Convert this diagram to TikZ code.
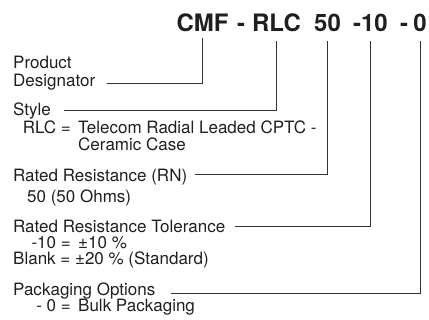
\documentclass[tikz,border=0pt]{standalone}
\usepackage{fontspec}
\setmainfont{TeX Gyre Heros}
\usetikzlibrary{positioning}
\tikzset{font=\fontsize{17}{20}\selectfont}
\tikzstyle{lbl}=[anchor=base west,inner sep=0pt,text=black!88]
\tikzstyle{eqs}=[anchor=base east,inner sep=0pt,text=black!88]
\tikzstyle{code}=[anchor=base,inner sep=0pt,text=black!88,font=\fontsize{24}{28}\selectfont\bfseries]
\tikzstyle{lead}=[draw=black!80,line width=0.8pt]

\begin{document}
\begin{tikzpicture}[x=1pt,y=-1pt]
\useasboundingbox (0,0) rectangle (429,320);
% part number
\node[code] (cmf) at (202.5,31.7) {CMF};
\node[code] (d1) at (241,31.7) {-};
\node[code] (rlc) at (276.5,31.7) {RLC};
\node[code] (rn) at (327.5,31.7) {50};
\node[code] (tol) at (370.5,31.7) {-10};
\node[code] (d2) at (404,31.7) {-};
\node[code] (pkg) at (420,31.7) {0};
% descriptions
\node[lbl] (prod) at (13,69) {Product};
\node[lbl] (desig) at (13,87) {Designator};
\node[lbl] (style) at (13,116) {Style};
\node[eqs] (rlceq) at (71,134) {RLC =};
\node[lbl] (rlctxt) at (78,134) {Telecom Radial Leaded CPTC -};
\node[lbl] (case) at (78,151) {Ceramic Case};
\node[lbl] (rated) at (13,182) {Rated Resistance (RN)};
\node[lbl] (ohms) at (27,203) {50 (50 Ohms)};
\node[lbl] (ratol) at (13,233) {Rated Resistance Tolerance};
\node[eqs] (tweq) at (71,249) {-10 =};
\node[lbl] (tw) at (78,249) {±10 \%};
\node[lbl] (blank) at (13,265) {Blank = ±20 \% (Standard)};
\node[lbl] (pack) at (13,296) {Packaging Options};
\node[eqs] (bulkeq) at (71,312) {- 0 =};
\node[lbl] (bulk) at (78,312) {Bulk Packaging};
% leaders
\draw[lead] ([xshift=12pt,yshift=4pt]desig.base east) -| ([yshift=-6pt]cmf.base);
\draw[lead] ([xshift=13pt,yshift=6pt]style.base east) -| ([yshift=-9pt]rlc.base);
\draw[lead] ([xshift=8pt,yshift=8pt]rated.base east) -| ([yshift=-9pt]rn.base);
\draw[lead] ([xshift=10pt,yshift=7pt]ratol.base east) -| ([yshift=-9pt]tol.base);
\draw[lead] ([xshift=15pt,yshift=3pt]pack.base east) -| ([yshift=-9pt]pkg.base);
\end{tikzpicture}
\end{document}
